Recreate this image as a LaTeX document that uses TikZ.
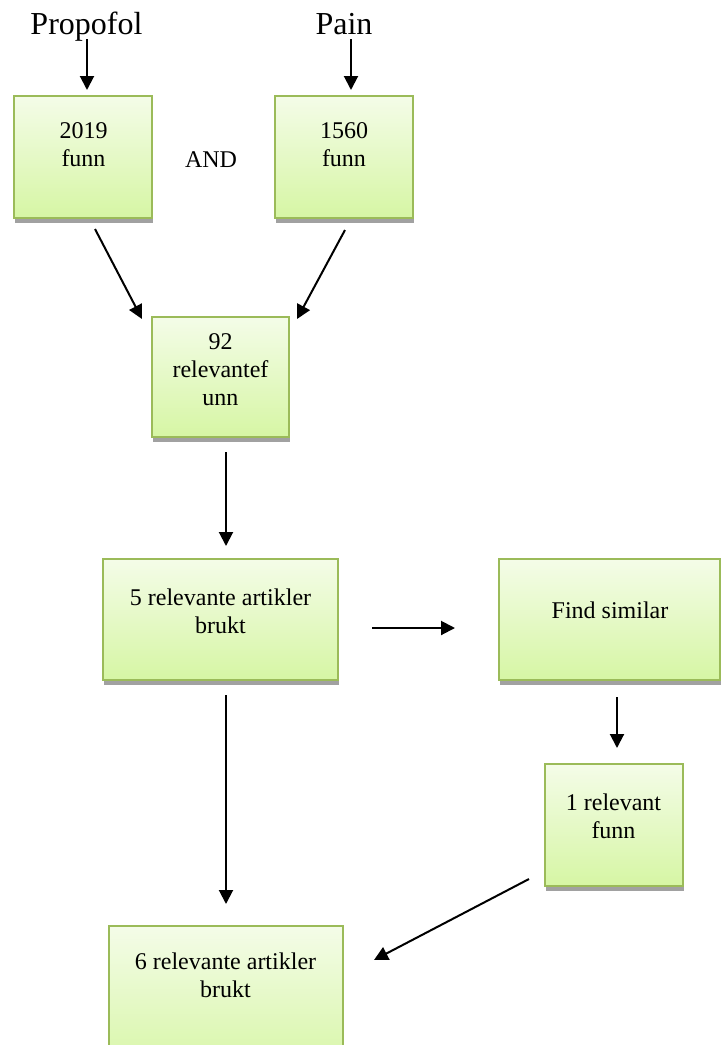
\documentclass[tikz,border=0pt]{standalone}
\usepackage{fontspec}
\setmainfont{Liberation Serif}
\usetikzlibrary{arrows.meta,shadows}
\definecolor{gtop}{RGB}{244,252,232}
\definecolor{gbot}{RGB}{214,246,164}
\definecolor{gborder}{RGB}{155,187,89}
\begin{document}
\begin{tikzpicture}[x=0.5pt,y=-0.5pt,
  gbox/.style={rectangle, anchor=north west, inner sep=0pt, outer sep=0pt,
    draw=gborder, line width=1pt, top color=gtop, bottom color=gbot,
    drop shadow={shadow xshift=0.3pt, shadow yshift=-2.5pt, fill=black!37, opacity=1}},
  btext/.style={anchor=north, inner sep=0pt, align=center, font=\fontsize{12}{14}\selectfont},
  htext/.style={anchor=base, inner sep=0pt, font=\fontsize{16}{19}\selectfont},
  arr/.style={line width=1pt, -{Triangle[length=7pt,width=7pt]}}]
\useasboundingbox (0,0) rectangle (722,1045);
\clip (0,0) rectangle (722,1045);
% boxes
\node[gbox, minimum width=69pt, minimum height=61pt] (a) at (14,96) {};
\node[gbox, minimum width=69pt, minimum height=61pt] (b) at (275,96) {};
\node[gbox, minimum width=68.5pt, minimum height=60pt] (c) at (152,317) {};
\node[gbox, minimum width=117.5pt, minimum height=60.5pt] (d) at (103,559) {};
\node[gbox, minimum width=110.5pt, minimum height=60.5pt] (e) at (499,559) {};
\node[gbox, minimum width=69pt, minimum height=61pt] (f) at (545,764) {};
\node[gbox, minimum width=117pt, minimum height=75pt] (g) at (109,926) {};
% texts
\node[htext] (propofol) at (86.5,34.5) {Propofol};
\node[htext] (pain) at (344,34.5) {Pain};
\node[btext] (at) at (83.5,122) {2019\\funn};
\node[btext] (bt) at (344,122) {1560\\funn};
\node[anchor=base, inner sep=0pt, font=\fontsize{12}{14}\selectfont] (and) at (211,167) {AND};
\node[btext] (ct) at (220.5,333) {92\\relevantef\\unn};
\node[btext] (dt) at (220.5,588) {5 relevante artikler\\brukt};
\node[btext] (et) at (610,601) {Find similar};
\node[btext] (ft) at (613.5,793) {1 relevant\\funn};
\node[btext] (gt) at (225.5,952) {6 relevante artikler\\brukt};
% connector end points
\coordinate (p1) at (87,39);   \coordinate (p2) at (87,90);
\coordinate (q1) at (351,39);  \coordinate (q2) at (351,90);
\coordinate (ac1) at (95,229); \coordinate (ac2) at (142,319);
\coordinate (bc1) at (345,230);\coordinate (bc2) at (297,319);
\coordinate (cd1) at (226,452);\coordinate (cd2) at (226,546);
\coordinate (de1) at (372,628);\coordinate (de2) at (455,628);
\coordinate (ef1) at (617,697);\coordinate (ef2) at (617,748);
\coordinate (dg1) at (226,695);\coordinate (dg2) at (226,904);
\coordinate (fg1) at (529,879);\coordinate (fg2) at (374,960);
% connectors
\draw[arr] (p1) -- (p2);
\draw[arr] (q1) -- (q2);
\draw[arr] (ac1) -- (ac2);
\draw[arr] (bc1) -- (bc2);
\draw[arr] (cd1) -- (cd2);
\draw[arr] (de1) -- (de2);
\draw[arr] (ef1) -- (ef2);
\draw[arr] (dg1) -- (dg2);
\draw[arr] (fg1) -- (fg2);
\end{tikzpicture}
\end{document}
